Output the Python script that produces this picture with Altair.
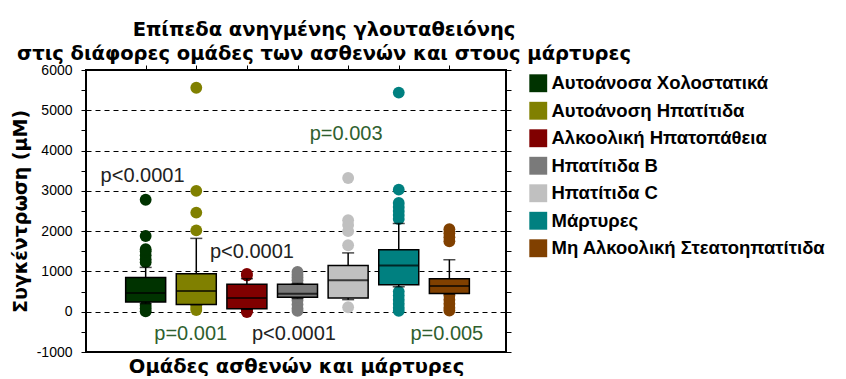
import altair as alt
import pandas as pd

groups = ["Αυτοάνοσα Χολοστατικά", "Αυτοάνοση Ηπατίτιδα", "Αλκοολική Ηπατοπάθεια",
          "Ηπατίτιδα B", "Ηπατίτιδα C", "Μάρτυρες", "Μη Αλκοολική Στεατοηπατίτιδα"]
colors = ["#003300", "#808000", "#800000", "#7a7a7a", "#c0c0c0", "#008080", "#804000"]

q1 = [240, 180, 75, 356, 340, 670, 455]
median = [465, 515, 340, 448, 780, 1150, 640]
q3 = [850, 945, 680, 680, 1150, 1540, 820]
whisker_lo = [200, 175, 60, 330, 300, 620, 440]
whisker_hi = [1100, 1820, 820, 700, 1460, 2190, 1290]

outliers = [
    [1230, 1300, 1400, 1500, 1550, 1880, 2780, 150, 80, 10],
    [2020, 2460, 3000, 5560, 150, 90, 40],
    [900, 940, 40, 20, -10],
    [780, 850, 920, 990, 280, 180, 80, 20],
    [1650, 2000, 2150, 2270, 3320, 110],
    [2300, 2400, 2500, 2600, 2700, 3030, 5440, 500, 400, 300, 200, 100, 20],
    [1750, 1850, 1950, 2050, 400, 300, 200, 100, 30],
]

ann_text = ["p<0.0001", "p<0.0001", "p=0.001", "p<0.0001", "p=0.003", "p=0.005"]
ann_x = [-0.89, 1.27, 0.17, 2.10, 3.24, 5.23]
ann_y = [3360, 1490, -550, -550, 4400, -550]
ann_green = [False, False, True, False, True, True]

y_ticks = list(range(-1000, 6001, 500))

idx = list(range(len(groups)))
df_box = pd.DataFrame({"idx": idx, "group": groups, "q1": q1, "median": median,
                       "q3": q3, "lo": whisker_lo, "hi": whisker_hi})
df_out = pd.DataFrame([{"idx": i, "group": groups[i], "v": v}
                       for i in idx for v in outliers[i]])
df_ann = pd.DataFrame({"label": ann_text, "ax": ann_x, "y": ann_y, "green": ann_green})

FONT = "Liberation Sans"
TFONT = "DejaVu Sans"

xscale = alt.Scale(domain=[-1.08, 7.02], nice=False, zero=False)
yscale = alt.Scale(domain=[-1000, 6000], nice=False, zero=False)
cscale = alt.Scale(domain=groups, range=colors)

legend = alt.Legend(title=None, orient="right", symbolType="square",
                    symbolSize=320, symbolStrokeWidth=0,
                    labelFont=FONT, labelFontSize=18.5,
                    labelFontWeight="bold", labelColor="black",
                    labelLimit=0, rowPadding=8.5, offset=13, padding=4,
                    symbolOpacity=1)

x_top = alt.X("idx:Q", scale=xscale,
              axis=alt.Axis(orient="top", values=idx, labels=False, ticks=True,
                            tickSize=5, tickColor="black", domain=False, grid=False,
                            title=None))
x_bottom = alt.X("idx:Q", scale=xscale,
                 axis=alt.Axis(orient="bottom", labels=False, ticks=False, domain=False,
                               grid=False, title="Ομάδες ασθενών και μάρτυρες",
                               titleFont=TFONT, titleFontSize=19.5, titleFontWeight="bold",
                               titleColor="black", titlePadding=5))
x_none = alt.X("idx:Q", scale=xscale, axis=None)

y_left_axis = alt.Axis(orient="left", values=y_ticks,
                       labelExpr="datum.value % 1000 == 0 ? datum.value : ''",
                       labelFont=FONT, labelFontSize=14, labelColor="black",
                       labelPadding=9, tickSize=5, tickColor="black", domain=False,
                       grid=True, gridColor="black", gridDash=[5, 4], gridWidth=1.2,
                       gridOpacity={"condition": {"test": "datum.value % 1000 == 0", "value": 1},
                                    "value": 0},
                       title="Συγκέντρωση (μΜ)", titleFont=TFONT, titleFontSize=19,
                       titleFontWeight="bold", titleColor="black", titlePadding=6)
y_right_axis = alt.Axis(orient="right", values=y_ticks, labels=False, tickSize=5,
                        tickColor="black", domain=False, grid=False, title=None)

outl = alt.Chart(df_out).mark_point(filled=True, shape="circle", size=140, opacity=1).encode(
    x=x_none,
    y=alt.Y("v:Q", scale=yscale, axis=None),
    color=alt.Color("group:N", scale=cscale, legend=legend),
)

whisk = alt.Chart(df_box).mark_rule(color="black", strokeWidth=1.5).encode(
    x=x_top,
    y=alt.Y("lo:Q", scale=yscale, axis=y_left_axis),
    y2="hi:Q",
)

caps = alt.Chart(df_box).transform_fold(["lo", "hi"], as_=["k", "val"]).mark_tick(
    orient="horizontal", size=12, thickness=1.5, color="black").encode(
    x=x_none,
    y=alt.Y("val:Q", scale=yscale, axis=None),
)

box = alt.Chart(df_box).mark_bar(size=40, stroke="black", strokeWidth=1.5).encode(
    x=x_bottom,
    y=alt.Y("q1:Q", scale=yscale, axis=y_right_axis),
    y2="q3:Q",
    color=alt.Color("group:N", scale=cscale, legend=legend),
)

med = alt.Chart(df_box).mark_tick(orient="horizontal", size=40, thickness=2,
                                  color="black").encode(
    x=x_none,
    y=alt.Y("median:Q", scale=yscale, axis=None),
)

x_ann = alt.X("ax:Q", scale=xscale, axis=None)
txt_black = alt.Chart(df_ann).transform_filter("!datum.green").mark_text(
    align="left", baseline="middle", font=FONT, fontSize=20, color="#222222").encode(
    x=x_ann, y=alt.Y("y:Q", scale=yscale, axis=None), text="label:N")
txt_green = alt.Chart(df_ann).transform_filter("datum.green").mark_text(
    align="left", baseline="middle", font=FONT, fontSize=20, color="#2f5f2f").encode(
    x=x_ann, y=alt.Y("y:Q", scale=yscale, axis=None), text="label:N")

chart = alt.layer(outl, whisk, caps, box, med, txt_black, txt_green).resolve_axis(
    x="independent", y="independent"
).properties(
    width=420, height=282,
    padding={"left": 3, "top": 11, "right": 0, "bottom": 0},
    title=alt.TitleParams(
        text=["Επίπεδα ανηγμένης γλουταθειόνης",
              "στις διάφορες ομάδες των ασθενών και στους μάρτυρες"],
        font=TFONT, fontSize=19.5, fontWeight="bold", color="black",
        lineHeight=24, offset=-1, anchor="middle", dx=28),
).configure(background="white").configure_view(stroke="black", strokeWidth=2)

chart.save("out.html", embed_options={"renderer": "svg", "actions": False})
